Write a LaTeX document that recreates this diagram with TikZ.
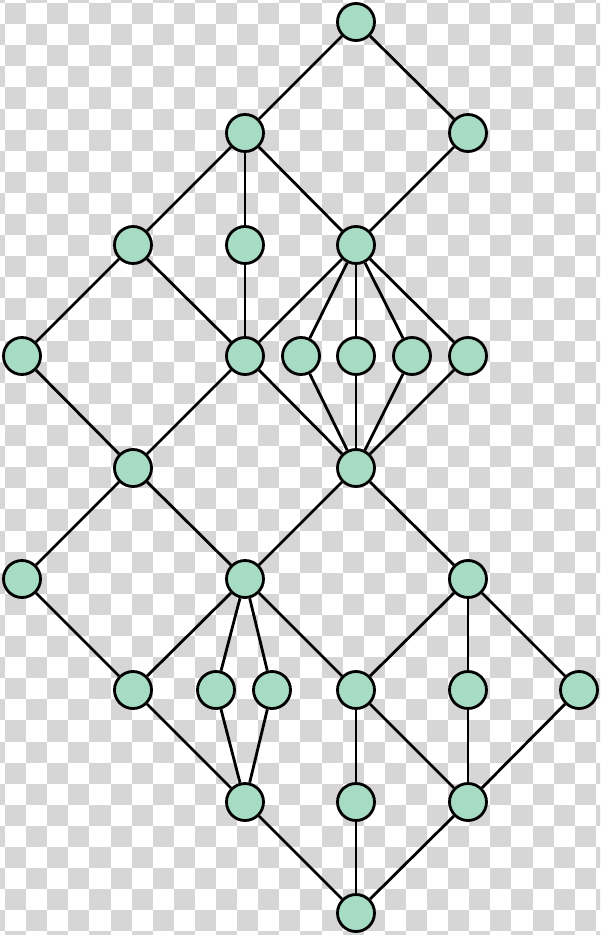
\documentclass[tikz,border=0pt]{standalone}
\usepackage{tikz}
\definecolor{mint}{RGB}{166,219,196}
\definecolor{chk}{RGB}{214,214,214}
\tikzset{vtx/.style={circle,draw=black,fill=mint,line width=0.8pt,minimum size=0.37cm,inner sep=0pt}}
\begin{document}
\begin{tikzpicture}[line width=0.8pt]
                \useasboundingbox (0,0) rectangle (6,-9.35);
                \begin{scope}
                \clip (0,0) rectangle (6,-9.35);
                \foreach \i in {-1,...,28}
                \foreach \j in {-1,...,44}
                {\ifodd\numexpr\i+\j\relax\else
                \fill[chk] ({0.05+0.211*\i},{-0.03-0.211*\j}) rectangle ++(0.211,-0.211);
                \fi}
                \end{scope}
                \node[vtx] (a1) at (3.56,-0.22) {};
                \node[vtx] (b1) at (2.45,-1.33) {};
                \node[vtx] (b2) at (4.68,-1.33) {};
                \node[vtx] (c1) at (1.33,-2.45) {};
                \node[vtx] (c2) at (2.45,-2.45) {};
                \node[vtx] (c3) at (3.56,-2.45) {};
                \node[vtx] (d1) at (0.22,-3.56) {};
                \node[vtx] (d2) at (2.45,-3.56) {};
                \node[vtx] (d3) at (3.01,-3.56) {};
                \node[vtx] (d4) at (3.56,-3.56) {};
                \node[vtx] (d5) at (4.12,-3.56) {};
                \node[vtx] (d6) at (4.68,-3.56) {};
                \node[vtx] (e1) at (1.33,-4.68) {};
                \node[vtx] (e2) at (3.56,-4.68) {};
                \node[vtx] (f1) at (0.22,-5.79) {};
                \node[vtx] (f2) at (2.45,-5.79) {};
                \node[vtx] (f3) at (4.68,-5.79) {};
                \node[vtx] (g1) at (1.33,-6.90) {};
                \node[vtx] (g2) at (2.16,-6.90) {};
                \node[vtx] (g3) at (2.72,-6.90) {};
                \node[vtx] (g4) at (3.56,-6.90) {};
                \node[vtx] (g5) at (4.68,-6.90) {};
                \node[vtx] (g6) at (5.79,-6.90) {};
                \node[vtx] (h1) at (2.45,-8.02) {};
                \node[vtx] (h2) at (3.56,-8.02) {};
                \node[vtx] (h3) at (4.68,-8.02) {};
                \node[vtx] (i1) at (3.56,-9.13) {};
                \draw (a1) -- (b1);
                \draw (a1) -- (b2);
                \draw (b1) -- (c1);
                \draw (b1) -- (c2);
                \draw (b1) -- (c3);
                \draw (b2) -- (c3);
                \draw (c1) -- (d1);
                \draw (c1) -- (d2);
                \draw (c2) -- (d2);
                \draw (c3) -- (d2);
                \draw (c3) -- (d3);
                \draw (c3) -- (d4);
                \draw (c3) -- (d5);
                \draw (c3) -- (d6);
                \draw (d1) -- (e1);
                \draw (d2) -- (e1);
                \draw (d2) -- (e2);
                \draw (d3) -- (e2);
                \draw (d4) -- (e2);
                \draw (d5) -- (e2);
                \draw (d6) -- (e2);
                \draw (e1) -- (f1);
                \draw (e1) -- (f2);
                \draw (e2) -- (f2);
                \draw (e2) -- (f3);
                \draw (f1) -- (g1);
                \draw (f2) -- (g1);
                \draw (f2) -- (g2);
                \draw (f2) -- (g3);
                \draw (f2) -- (g4);
                \draw (f3) -- (g4);
                \draw (f3) -- (g5);
                \draw (f3) -- (g6);
                \draw (g1) -- (h1);
                \draw (g2) -- (h1);
                \draw (g3) -- (h1);
                \draw (g4) -- (h2);
                \draw (g4) -- (h3);
                \draw (g5) -- (h3);
                \draw (g6) -- (h3);
                \draw (h1) -- (i1);
                \draw (h2) -- (i1);
                \draw (h3) -- (i1);
            \end{tikzpicture}
\end{document}
